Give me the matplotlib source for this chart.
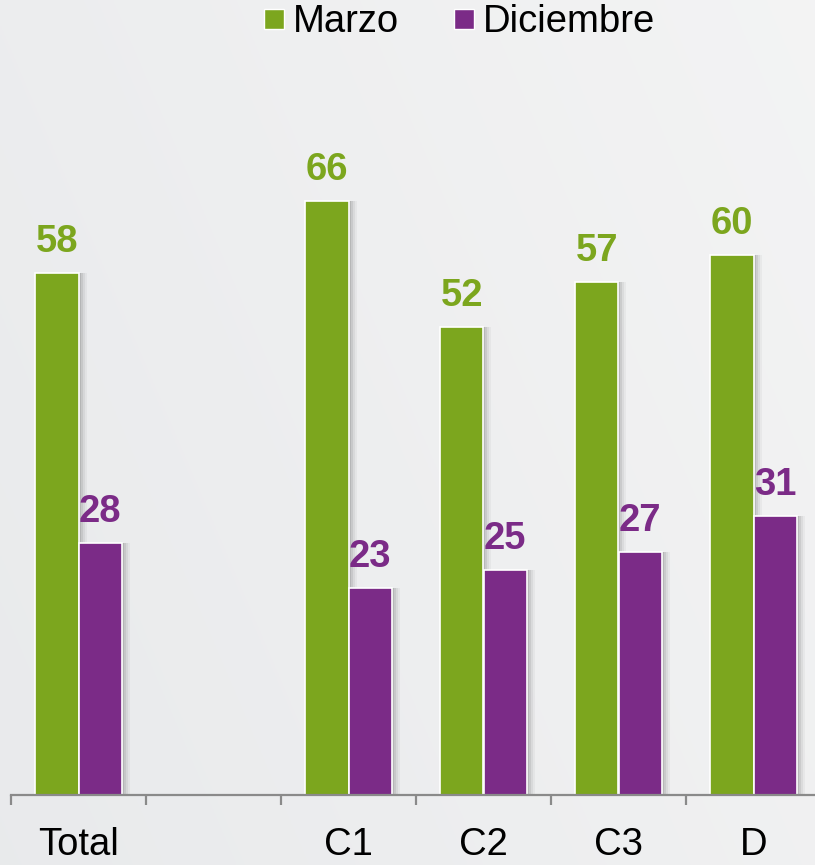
import numpy as np
import matplotlib
matplotlib.use("Agg")
import matplotlib.pyplot as plt
import matplotlib.transforms as mtransforms
from matplotlib.lines import Line2D

plt.rcParams['font.family'] = ['Liberation Sans', 'DejaVu Sans']

categories = ["Total", "", "C1", "C2", "C3", "D"]
marzo = [58, None, 66, 52, 57, 60]
diciembre = [28, None, 23, 25, 27, 31]
series_names = ["Marzo", "Diciembre"]

GREEN = "#7ca61e"
PURPLE = "#7b2b87"

W, H = 815, 865
fig = plt.figure(figsize=(W / 100, H / 100), dpi=100)

# background gradient
bg = fig.add_axes([0, 0, 1, 1], zorder=-10)
xx = np.linspace(0, 1, 400)
yy = np.linspace(0, 1, 400)
X, Y = np.meshgrid(xx, yy)
val = 0.55 * X + 0.25 * (1 - Y)
val = np.clip(val, 0, 1)
c0 = np.array([0.913, 0.918, 0.925])
c1 = np.array([0.965, 0.965, 0.965])
img = c0[None, None, :] * (1 - val[..., None]) + c1[None, None, :] * val[..., None]
bg.imshow(img, extent=[0, 1, 0, 1], aspect='auto', origin='upper')
bg.axis('off')

left = 11 / W
bottom = (H - 795) / H
ax = fig.add_axes([left, bottom, 810 / W, 720 / H])
ax.patch.set_alpha(0)
ax.set_xlim(-0.5, 5.5)
ax.set_ylim(0, 80)

x = np.arange(len(categories))
bw = 0.32
FS = 27.5

for vals, off, color in [(marzo, -bw / 2, GREEN), (diciembre, bw / 2, PURPLE)]:
    xs = [xi + off for xi, v in zip(x, vals) if v is not None]
    vs = [v for v in vals if v is not None]
    # soft shadow
    for k, a in [(8, 0.05), (6, 0.07), (4, 0.10), (2, 0.14)]:
        tr = ax.transData + mtransforms.ScaledTranslation(k / 100, 0, fig.dpi_scale_trans)
        ax.bar(xs, vs, width=bw, color="#444444", alpha=a, linewidth=0,
               transform=tr, zorder=1)
    ax.bar(xs, vs, width=bw, color=color, edgecolor="white", linewidth=1.2, zorder=2)
    for xi, v in zip(xs, vs):
        ax.annotate(str(v), (xi, v), xytext=(0, 15), textcoords="offset points",
                    ha="center", va="baseline", fontsize=FS, fontweight="bold",
                    color=color, zorder=3)

for s in ["top", "right", "left"]:
    ax.spines[s].set_visible(False)
ax.spines["bottom"].set_color("#8a8a8a")
ax.spines["bottom"].set_linewidth(1.6)
ax.set_yticks([])
ax.set_xticks(x)
ax.set_xticklabels(categories, fontsize=FS)
ax.tick_params(axis="x", which="major", length=0, pad=23)
ax.set_xticks(np.arange(-0.5, 6.0, 1.0), minor=True)
ax.tick_params(axis="x", which="minor", length=7, width=1.6, color="#8a8a8a")

handles = [Line2D([], [], marker="s", linestyle="none", markersize=14,
                  markerfacecolor=GREEN, markeredgecolor="white", markeredgewidth=1),
           Line2D([], [], marker="s", linestyle="none", markersize=14,
                  markerfacecolor=PURPLE, markeredgecolor="white", markeredgewidth=1)]
fig.legend(handles, series_names, loc="center", bbox_to_anchor=(458 / W, 1 - 22 / H),
           ncol=2, frameon=False, fontsize=FS, handlelength=0.7,
           handletextpad=0.15, columnspacing=1.35, borderpad=0, borderaxespad=0)

fig.savefig("out.png", dpi=100)
